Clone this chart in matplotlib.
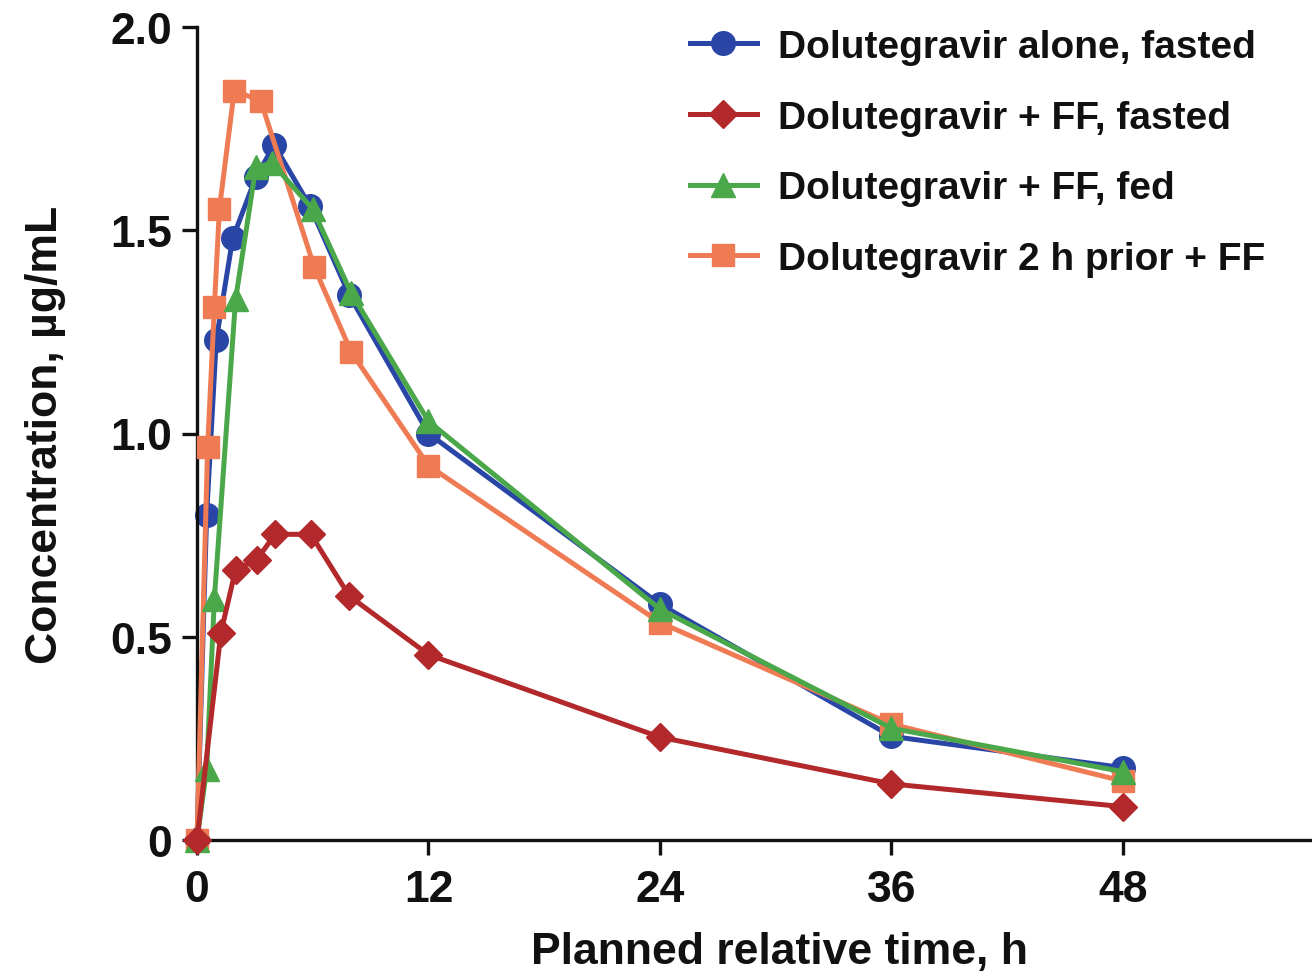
import matplotlib
matplotlib.use('Agg')
import matplotlib.pyplot as plt

# planned relative time (h) and mean concentration (ug/mL)
time_alone = [0, 0.5, 1.0, 1.85, 3.05, 4.0, 5.85, 7.9, 12, 24, 36, 48]
conc_alone = [0, 0.80, 1.23, 1.48, 1.63, 1.71, 1.56, 1.34, 1.00, 0.58, 0.255, 0.178]

time_ff_fasted = [0, 1.24, 2.0, 3.1, 4.05, 5.9, 7.9, 12, 24, 36, 48]
conc_ff_fasted = [0, 0.51, 0.665, 0.69, 0.752, 0.752, 0.60, 0.456, 0.253, 0.138, 0.082]

time_ff_fed = [0, 0.5, 0.9, 2.0, 3.05, 3.9, 6.0, 8.0, 12, 24, 36, 48]
conc_ff_fed = [0, 0.175, 0.593, 1.33, 1.655, 1.665, 1.552, 1.345, 1.03, 0.568, 0.275, 0.168]

time_prior = [0, 0.55, 0.9, 1.16, 1.93, 3.3, 6.08, 8.0, 12, 24, 36, 48]
conc_prior = [0, 0.966, 1.31, 1.552, 1.843, 1.819, 1.409, 1.20, 0.921, 0.535, 0.285, 0.145]

labels = ['Dolutegravir alone, fasted', 'Dolutegravir + FF, fasted',
          'Dolutegravir + FF, fed', 'Dolutegravir 2 h prior + FF']
x_ticks = [0, 12, 24, 36, 48]
y_ticks = [0, 0.5, 1.0, 1.5, 2.0]
y_tick_labels = ['0', '0.5', '1.0', '1.5', '2.0']

plt.rcParams['font.family'] = ['Liberation Sans', 'DejaVu Sans']
plt.rcParams['font.weight'] = 'bold'

figure = plt.figure(figsize=(13.12, 9.78), dpi=100)
axes = figure.add_axes([197 / 1312, 137 / 978, 1113 / 1312, 813 / 978])

line_width = 3.6
blue = '#2946a6'
red = '#b3282a'
green = '#4aa84a'
orange = '#ef7b55'

h1, = axes.plot(time_alone, conc_alone, color=blue, lw=line_width, marker='o', ms=17,
                zorder=2, clip_on=False)
h2, = axes.plot(time_ff_fasted, conc_ff_fasted, color=red, lw=line_width, marker='D', ms=14,
                zorder=5, clip_on=False)
h3, = axes.plot(time_ff_fed, conc_ff_fed, color=green, lw=line_width, marker='^', ms=17,
                zorder=4, clip_on=False)
h4, = axes.plot(time_prior, conc_prior, color=orange, lw=line_width, marker='s', ms=16,
                zorder=3, clip_on=False)

axes.set_xlim(0, 57.7)
axes.set_ylim(0, 2.0)
axes.set_xticks(x_ticks)
axes.set_xticklabels([str(t) for t in x_ticks])
axes.set_yticks(y_ticks)
axes.set_yticklabels(y_tick_labels)

for side in ['top', 'right']:
    axes.spines[side].set_visible(False)
for side in ['left', 'bottom']:
    axes.spines[side].set_linewidth(2.4)
    axes.spines[side].set_color('#111111')

axes.tick_params(axis='both', direction='out', length=11, width=2.4, color='#111111',
                 labelsize=32, labelcolor='#111111')
axes.tick_params(axis='y', pad=7)
axes.tick_params(axis='x', pad=10)

axes.set_xlabel('Planned relative time, h', fontsize=32, fontweight='bold', color='#111111')
axes.xaxis.set_label_coords(0.523, -0.112)
axes.set_ylabel('Concentration, µg/mL', fontsize=32, fontweight='bold', color='#111111')
axes.yaxis.set_label_coords(-0.118, 0.5)

legend = axes.legend([h1, h2, h3, h4], labels, loc='upper left',
                     bbox_to_anchor=(690 / 1312, 1 - 30 / 978), bbox_transform=figure.transFigure,
                     frameon=False, fontsize=28, handlelength=1.72, handletextpad=0.55,
                     labelspacing=0.89, borderpad=0, borderaxespad=0)
for text in legend.get_texts():
    text.set_color('#111111')

figure.savefig('out.png', dpi=100)
